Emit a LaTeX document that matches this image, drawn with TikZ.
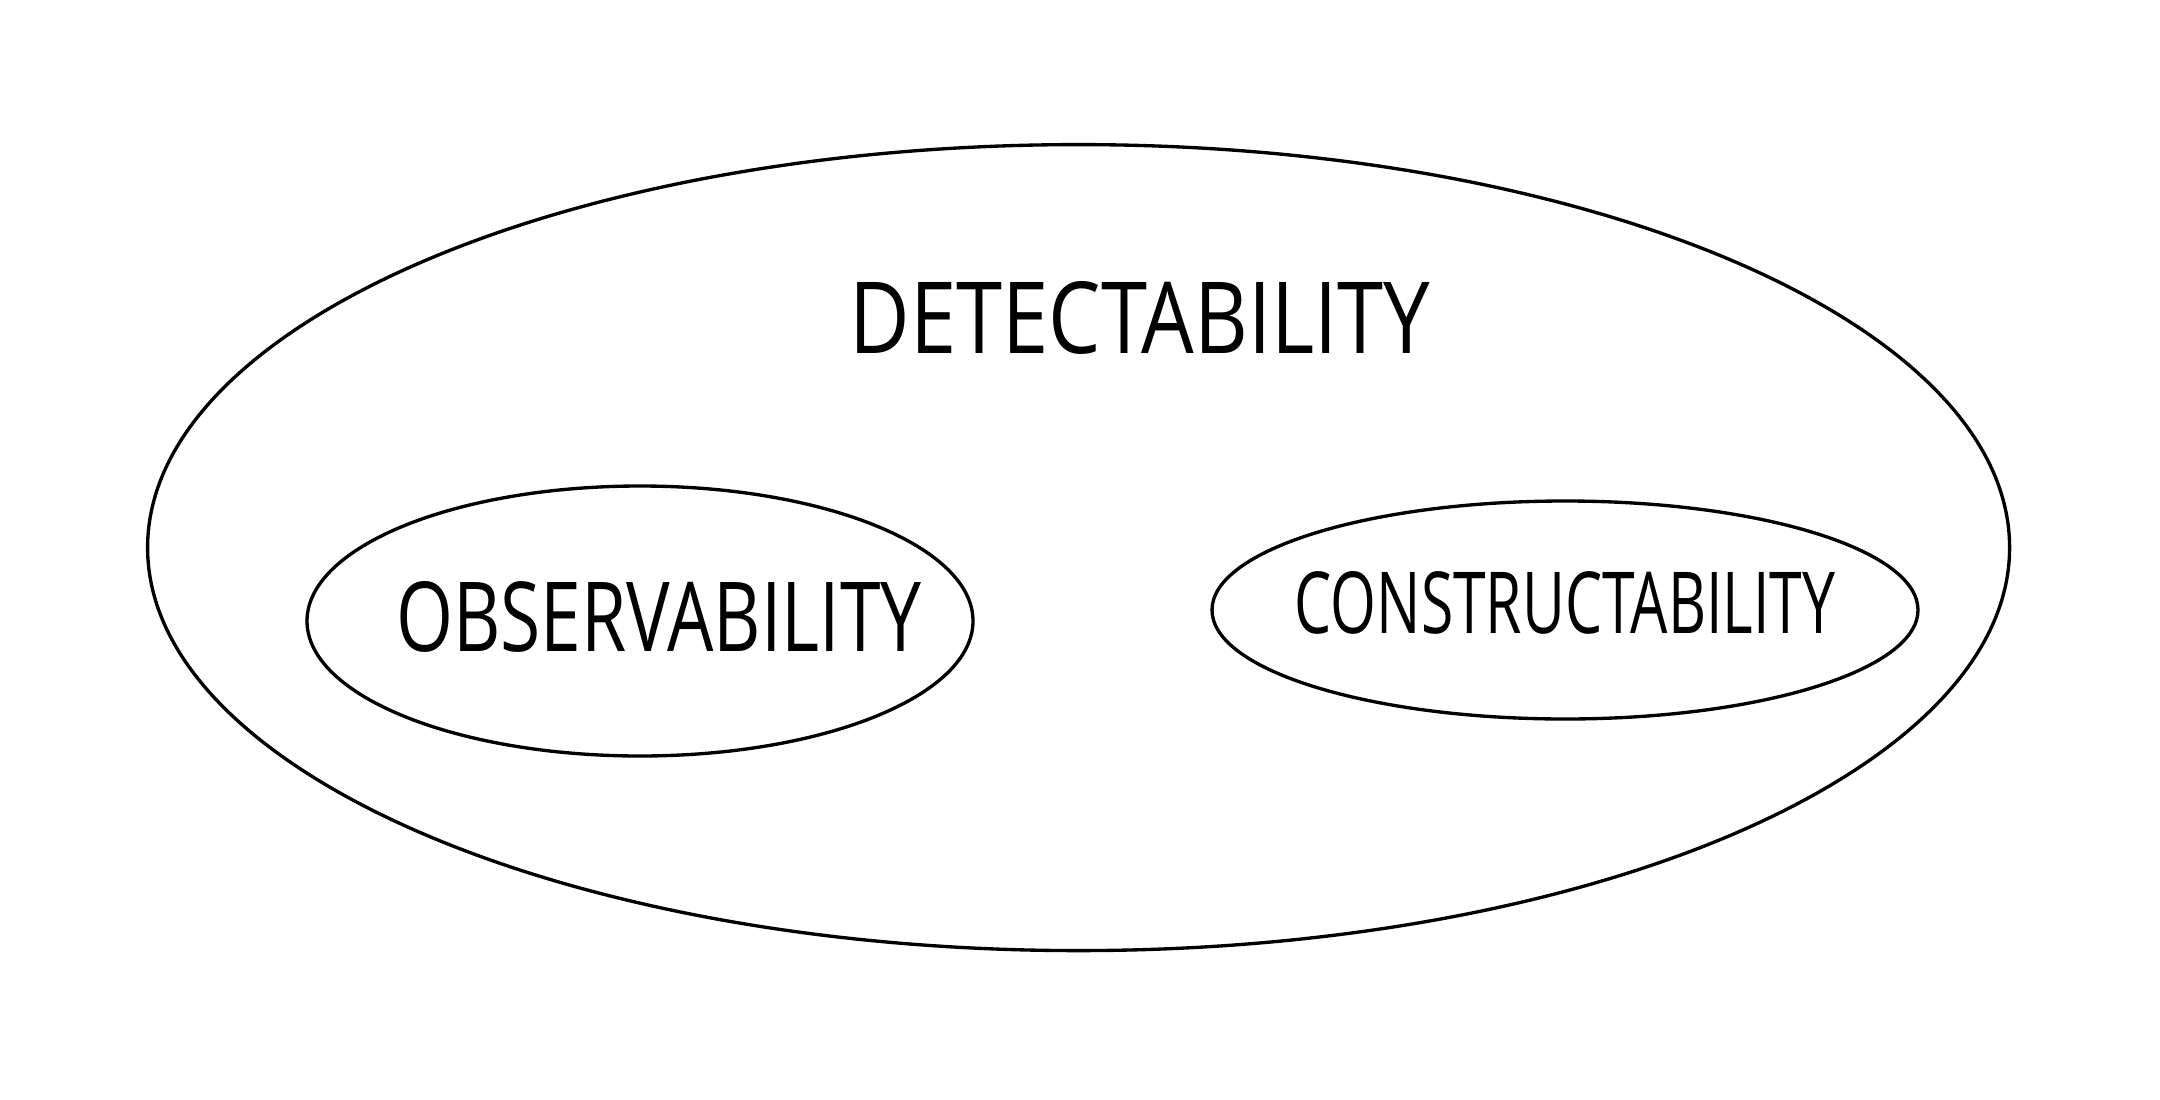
\documentclass[tikz,border=0pt]{standalone}
\usepackage{fontspec}
\setmainfont{Open Sans}
\usepackage{graphicx}
\begin{document}
\begin{tikzpicture}[x=0.01cm,y=-0.01cm,
  ring/.style={draw=black,line width=0.95pt}]
\useasboundingbox (0,0) rectangle (2160,1100);
\draw[ring] (1078.6,547.6) ellipse [x radius=931, y radius=403];
\draw[ring] (640,621) ellipse [x radius=333, y radius=135];
\draw[ring] (1565,610) ellipse [x radius=353, y radius=109];
\node[inner sep=0pt] (det) at (1140,318) {\resizebox{5.8cm}{0.72cm}{DETECTABILITY}};
\node[inner sep=0pt] (obs) at (659,617) {\resizebox{5.25cm}{0.7cm}{OBSERVABILITY}};
\node[inner sep=0pt] (con) at (1565,603) {\resizebox{5.4cm}{0.62cm}{CONSTRUCTABILITY}};
\end{tikzpicture}
\end{document}
